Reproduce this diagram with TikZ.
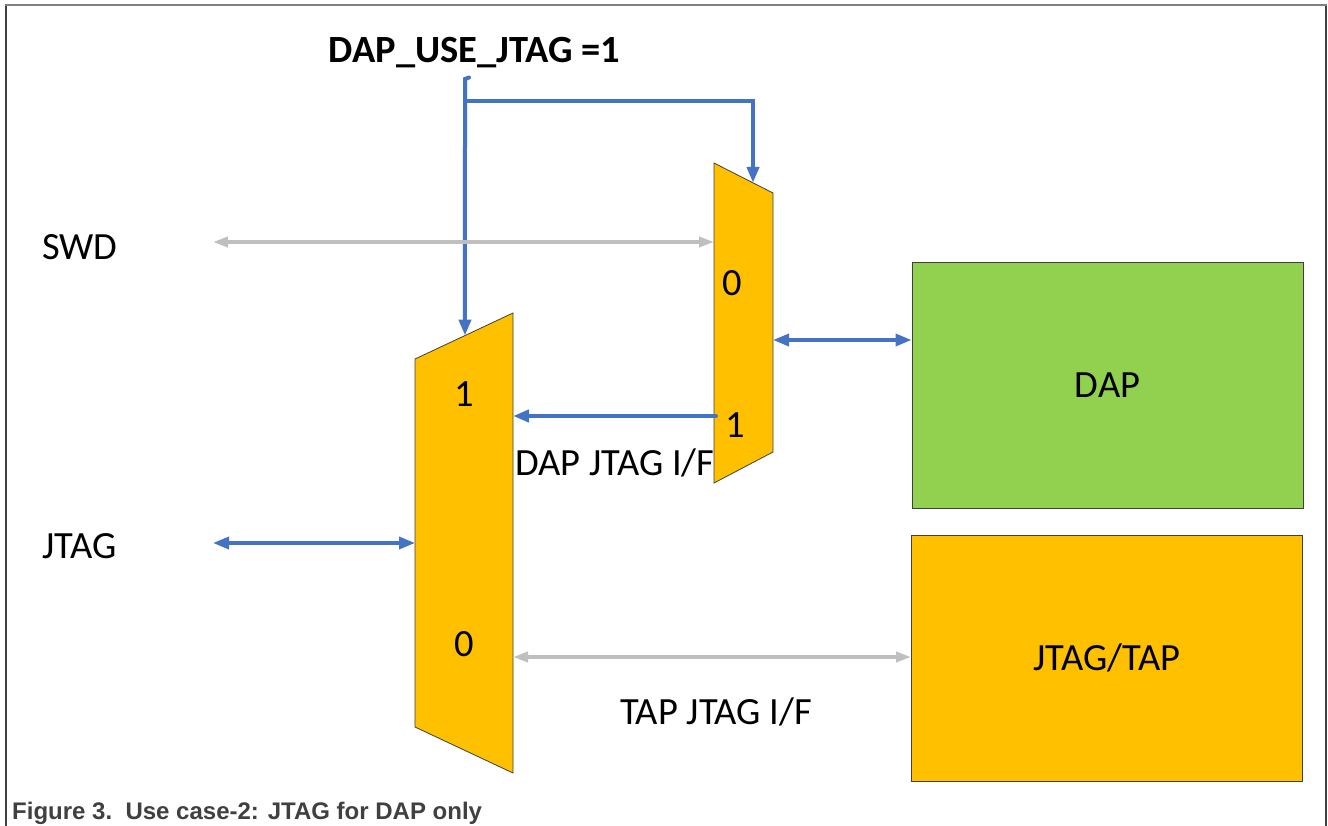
\documentclass[tikz,border=0pt]{standalone}
\usepackage{fontspec}
\setmainfont{Carlito}
\newfontfamily\capfont{Liberation Sans}
\usetikzlibrary{arrows.meta,calc}
\definecolor{muxfill}{HTML}{FFC000}
\definecolor{dapfill}{HTML}{92D050}
\definecolor{ctrlblue}{HTML}{4472C4}
\definecolor{busgray}{HTML}{BFBFBF}
\definecolor{edgegray}{HTML}{404040}
\definecolor{captiongray}{HTML}{404040}

\begin{document}
\begin{tikzpicture}[x=1pt,y=-1pt,
  lbl/.style={font=\fontsize{38.5}{44}\selectfont, inner sep=0pt},
  mux/.style={fill=muxfill, draw=edgegray, line width=0.8pt},
  block/.style={draw=edgegray, line width=1pt, inner sep=0pt,
    minimum width=391pt, minimum height=246pt, font=\fontsize{38.5}{44}\selectfont},
  ctrlline/.style={draw=ctrlblue, line width=4pt},
  ctrlarrow/.style={ctrlline, -{Triangle[length=16pt,width=12pt]}},
  bluebus/.style={draw=ctrlblue, line width=3.5pt,
    {Triangle[length=16pt,width=12pt]}-{Triangle[length=16pt,width=12pt]}},
  graybus/.style={draw=busgray, line width=3.5pt,
    {Triangle[length=15pt,width=10pt]}-{Triangle[length=15pt,width=10pt]}}
  ]
  \useasboundingbox (0,0) rectangle (1328,825);
  \fill[white] (0,0) rectangle (1328,825);

  % outer frame
  \draw[edgegray, line width=2pt] (5.5,5) -- (5.5,826);
  \draw[edgegray, line width=2pt] (1326,5) -- (1326,826);
  \draw[gray, line width=2pt] (5,5) -- (1327,5);

  % left multiplexer
  \coordinate (Ltl) at (415,359);
  \coordinate (Ltr) at (513,313);
  \coordinate (Lbr) at (513,773);
  \coordinate (Lbl) at (415,727);
  \draw[mux] (Ltl) -- (Ltr) -- (Lbr) -- (Lbl) -- cycle;
  \node[lbl, anchor=base] (Lone) at (464,406) {1};
  \node[lbl, anchor=base] (Lzero) at (464,656) {0};

  % right multiplexer
  \coordinate (Rtl) at (714,163);
  \coordinate (Rtr) at (773,193);
  \coordinate (Rbr) at (773,452);
  \coordinate (Rbl) at (714,483);
  \draw[mux] (Rtl) -- (Rtr) -- (Rbr) -- (Rbl) -- cycle;
  \node[lbl, anchor=base] (Rzero) at (732,295) {0};
  \node[lbl, anchor=base] (Rone) at (735,437) {1};

  % target blocks
  \node[block, fill=dapfill] (dap) at (1107.5,385) {DAP};
  \node[block, fill=muxfill] (tap) at (1107,658) {JTAG/TAP};

  % select signal
  \node[font=\fontsize{38.5}{44}\selectfont\bfseries, inner sep=0pt, anchor=base]
    (sel) at (474.5,62) {DAP\_USE\_JTAG =1};
  \coordinate (selhook) at (469,77.5);
  \coordinate (selsrc) at (465,79);
  \coordinate (seltee) at (465,101);
  \coordinate (selL) at ($(Ltl)!0.51!(Ltr)$);
  \coordinate (selR) at ($(Rtl)!0.661!(Rtr)$);
  \draw[ctrlarrow, line cap=round] (selhook) -- (selsrc) -- (selL);
  \draw[ctrlarrow] (seltee) -| (selR);

  % external ports
  \node[lbl, anchor=base west] (swd) at (42,259) {SWD};
  \node[lbl, anchor=base west] (jtag) at (42,558) {JTAG};
  \coordinate (swdend) at (213,242);
  \coordinate (jtagend) at (213,543);
  \draw[graybus] (swdend) -- (swdend -| Rtl);
  \draw[bluebus] (jtagend) -- (jtagend -| Ltl);

  % mux to DAP
  \coordinate (rmuxout) at (773,340);
  \draw[bluebus] (rmuxout) -- (rmuxout -| dap.west);

  % DAP JTAG interface
  \coordinate (dapif) at (716,416);
  \draw[ctrlline, line cap=round, -{Triangle[length=16pt,width=12pt]}] (dapif) -- (dapif -| Ltr);
  \node[lbl, anchor=base west] (dapiflbl) at (515,475) {DAP JTAG I/F};

  % TAP JTAG interface
  \coordinate (tapif) at (513,657);
  \draw[graybus] (tapif) -- (tapif -| tap.west);
  \node[lbl, anchor=base west] (tapiflbl) at (620,724) {TAP JTAG I/F};

  % caption
  \node[font=\capfont\bfseries\fontsize{24}{28}\selectfont, text=captiongray,
    inner sep=0pt, anchor=base west] (caption) at (12,819)
    {Figure 3.\ \ Use case-2: JTAG for DAP only};
\end{tikzpicture}
\end{document}
